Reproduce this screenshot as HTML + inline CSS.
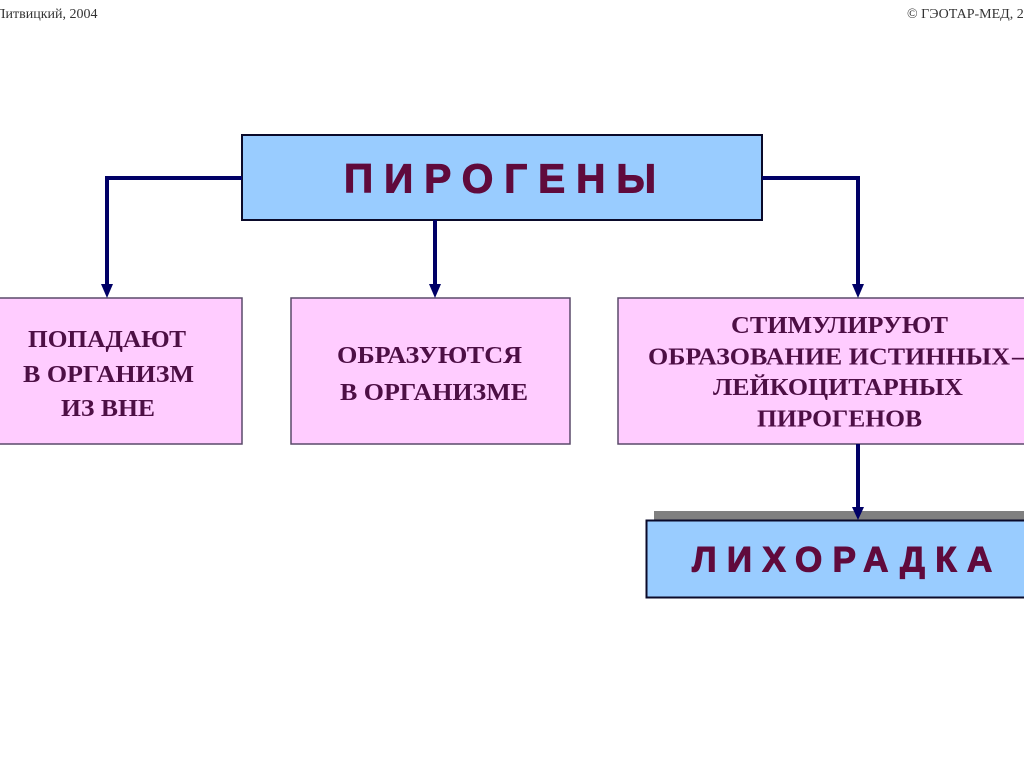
<!DOCTYPE html>
<html lang="ru">
<head>
<meta charset="utf-8">
<style>
html,body{margin:0;padding:0;background:#fff;width:1024px;height:767px;overflow:hidden}
svg{display:block}
.s{font-family:"Liberation Serif",serif;font-weight:bold;font-size:24px;fill:#4d0f45}
.h{font-family:"Liberation Sans",sans-serif;font-weight:bold;fill:#600a3c;stroke:#600a3c;stroke-width:1.1px}
.c{font-family:"Liberation Serif",serif;font-size:14px;fill:#333}
</style>
</head>
<body>
<svg width="1024" height="767" viewBox="0 0 1024 767" xmlns="http://www.w3.org/2000/svg">
<rect width="1024" height="767" fill="#fff"/>
<text class="c" x="-4" y="18">Литвицкий, 2004</text>
<text class="c" x="907" y="18">© ГЭОТАР-МЕД, 2</text>

<rect x="654" y="511" width="370" height="10" fill="#808080"/>

<rect x="242" y="135" width="520" height="85" fill="#99ccff" stroke="#0a0a2a" stroke-width="2"/>
<rect x="-2" y="298" width="244" height="146" fill="#ffccff" stroke="#5a4a6a" stroke-width="1.5"/>
<rect x="291" y="298" width="279" height="146" fill="#ffccff" stroke="#5a4a6a" stroke-width="1.5"/>
<rect x="618" y="298" width="410" height="146" fill="#ffccff" stroke="#5a4a6a" stroke-width="1.5"/>
<rect x="646.500" y="520.500" width="380" height="77" fill="#99ccff" stroke="#0a0a2a" stroke-width="2"/>

<g fill="none" stroke="#000066" stroke-width="4">
<path d="M242 178H107V286"/>
<path d="M435 220V286"/>
<path d="M762 178H858V286"/>
<path d="M858 444V508"/>
</g>
<g fill="#000066">
<polygon points="101,284 113,284 107,298"/>
<polygon points="429,284 441,284 435,298"/>
<polygon points="852,284 864,284 858,298"/>
<polygon points="852,507 864,507 858,520"/>
</g>

<text class="h" x="344" y="192.500" font-size="40.500" letter-spacing="11">ПИРОГЕНЫ</text>
<text class="h" x="692" y="571.500" font-size="35" letter-spacing="10.300">ЛИХОРАДКА</text>

<text class="s" x="28" y="347" textLength="158" lengthAdjust="spacingAndGlyphs">ПОПАДАЮТ</text>
<text class="s" x="23" y="382" textLength="171" lengthAdjust="spacingAndGlyphs">В ОРГАНИЗМ</text>
<text class="s" x="61" y="416" textLength="94" lengthAdjust="spacingAndGlyphs">ИЗ ВНЕ</text>

<text class="s" x="337" y="363" textLength="185" lengthAdjust="spacingAndGlyphs">ОБРАЗУЮТСЯ</text>
<text class="s" x="340" y="400" textLength="188" lengthAdjust="spacingAndGlyphs">В ОРГАНИЗМЕ</text>

<text class="s" x="731" y="333" textLength="217" lengthAdjust="spacingAndGlyphs">СТИМУЛИРУЮТ</text>
<text class="s" x="648" y="364.500" textLength="362" lengthAdjust="spacingAndGlyphs">ОБРАЗОВАНИЕ ИСТИННЫХ</text>
<text class="s" x="1012" y="364.500">–</text>
<text class="s" x="713" y="395" textLength="250" lengthAdjust="spacingAndGlyphs">ЛЕЙКОЦИТАРНЫХ</text>
<text class="s" x="757" y="426.500" textLength="165" lengthAdjust="spacingAndGlyphs">ПИРОГЕНОВ</text>
</svg>
</body>
</html>
